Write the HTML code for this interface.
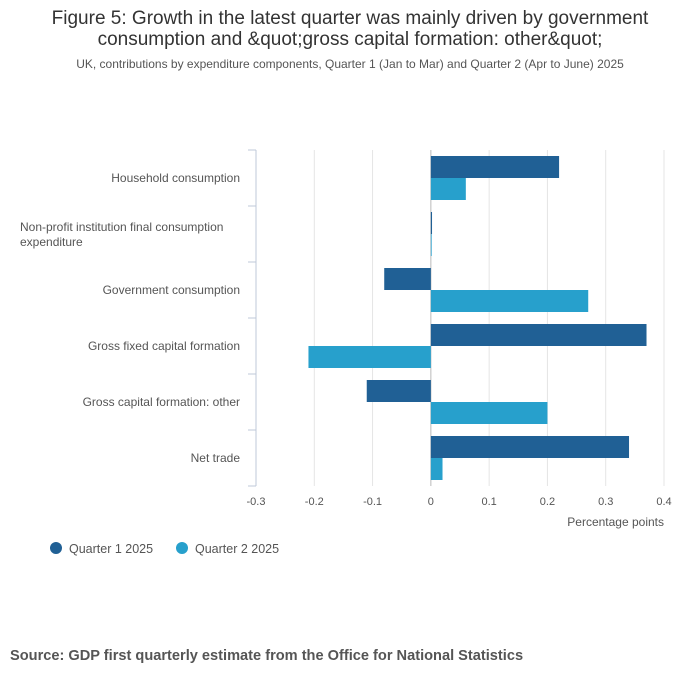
<!DOCTYPE html>
<html><head><meta charset="utf-8"><style>
body{margin:0;background:#fff;font-family:"Liberation Sans",sans-serif;}
#wrap{position:relative;width:700px;height:682px;}
</style></head><body>
<div id="wrap">
<svg width="700" height="682" xmlns="http://www.w3.org/2000/svg" id="chart">
<text x="350" y="24" text-anchor="middle" font-size="19" fill="#333">Figure 5: Growth in the latest quarter was mainly driven by government</text>
<text x="350" y="45" text-anchor="middle" font-size="19" fill="#333">consumption and &amp;quot;gross capital formation: other&amp;quot;</text>
<text x="350" y="68" text-anchor="middle" font-size="12" fill="#555">UK, contributions by expenditure components, Quarter 1 (Jan to Mar) and Quarter 2 (Apr to June) 2025</text>
<g id="grid"></g><g id="bars"></g><g id="ylabels"></g><g id="xlabels"></g>
<text x="664" y="526" text-anchor="end" font-size="12" fill="#555">Percentage points</text>
<g><circle cx="56" cy="548" r="6" fill="#206095"/><text x="69" y="553" font-size="12.5" fill="#555">Quarter 1 2025</text></g>
<g><circle cx="182" cy="548" r="6" fill="#27a0cc"/><text x="195" y="553" font-size="12.5" fill="#555">Quarter 2 2025</text></g>
<text x="10" y="660" font-size="14.6" font-weight="bold" fill="#555">Source: GDP first quarterly estimate from the Office for National Statistics</text>
</svg></div>
<script>
const categories=[["Household consumption"],["Non-profit institution final consumption","expenditure"],["Government consumption"],["Gross fixed capital formation"],["Gross capital formation: other"],["Net trade"]];
const q1Values=[0.22,0.002,-0.08,0.37,-0.11,0.34];
const q2Values=[0.06,0.001,0.27,-0.21,0.2,0.02];
const xTicks=[-0.3,-0.2,-0.1,0,0.1,0.2,0.3,0.4];
const xTickLabels=["-0.3","-0.2","-0.1","0","0.1","0.2","0.3","0.4"];
const NS="http://www.w3.org/2000/svg";
const x0=256,x1=664,y0=150,y1=486,xmin=-0.3,xmax=0.4;
const xs=v=>x0+(v-xmin)/(xmax-xmin)*(x1-x0);
const band=(y1-y0)/categories.length;
function mk(t,a,p){const e=document.createElementNS(NS,t);for(const k in a)e.setAttribute(k,a[k]);p.appendChild(e);return e;}
const grid=document.getElementById('grid'),bars=document.getElementById('bars'),yl=document.getElementById('ylabels'),xl=document.getElementById('xlabels');
xTicks.forEach((t,i)=>{
 const l=mk('line',{x1:xs(t),x2:xs(t),y1:y0,y2:y1,stroke:t===0?'#bbb':'#e5e5e5','stroke-width':1},grid);
 
 
 const tx=mk('text',{x:xs(t),y:y1+19,'text-anchor':'middle','font-size':11,fill:'#555'},xl);
 tx.textContent=xTickLabels[i];
 
 
});
const ax=mk('line',{x1:x0,x2:x0,y1:y0,y2:y1,stroke:'#bfc8d8','stroke-width':1},grid);


for(let i=0;i<=categories.length;i++){const tk=mk('line',{x1:x0-8,x2:x0,y1:y0+i*band,y2:y0+i*band,stroke:'#bfc8d8'},grid);
 
 }
categories.forEach((c,i)=>{
 const by=y0+i*band;
 [[q1Values[i],'#206095',6,'bar-q1'],[q2Values[i],'#27a0cc',28,'bar-q2']].forEach(([v,col,off,nm])=>{
  const a=xs(0),b=xs(v);
  const r=mk('rect',{x:Math.min(a,b),y:by+off,width:Math.max(Math.abs(b-a),0.8),height:22,fill:col},bars);
  
  
 });
 const cy=by+band/2;
 if(c.length===1){const t=mk('text',{x:240,y:cy+4,'text-anchor':'end','font-size':12,fill:'#555'},yl);t.textContent=c[0];
  
  }
 else{c.forEach((s,j)=>{const t=mk('text',{x:20,y:cy-3+j*15,'font-size':12,fill:'#555'},yl);t.textContent=s;
  
  });}
});
</script>
</body></html>
